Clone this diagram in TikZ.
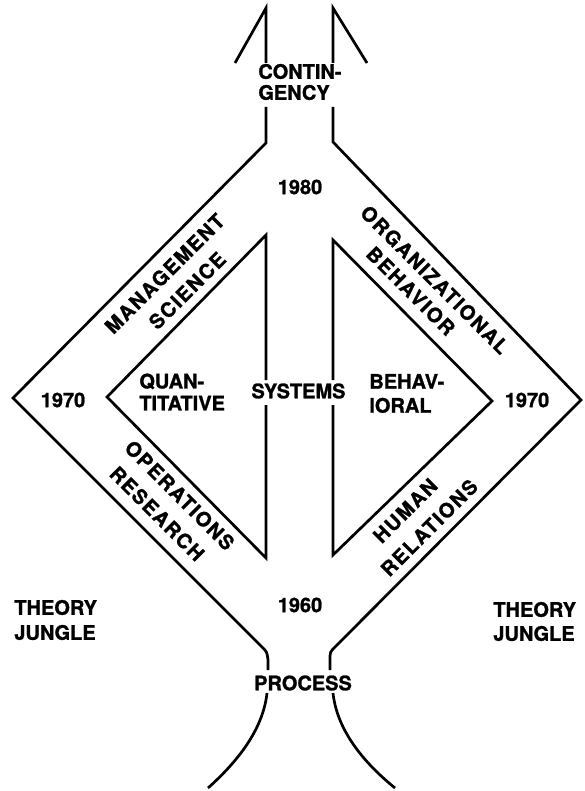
\documentclass[tikz,border=0pt]{standalone}
\usepackage{fontspec}
\setmainfont{TeX Gyre Heros}[BoldFeatures={FakeBold=1.2}]
\newfontfamily\spacedfont{TeX Gyre Heros}[LetterSpace=8,BoldFeatures={FakeBold=1.2}]
\begin{document}
\begin{tikzpicture}[x=1pt,y=-1pt,
  line width=2.7pt,
  lbl/.style={font=\fontsize{20}{22}\selectfont\bfseries, inner sep=0pt},
  slbl/.style={inner sep=0pt, align=center}]
\useasboundingbox (0,0) rectangle (584,791);
% top arrow heads
\draw (235,63) -- (266,8) -- (266,63);
\draw (367,63) -- (333,8) -- (333,63);
% outer diamond
\draw (266,107) -- (266,143) -- (13,398) -- (262,647) .. controls (267,652) .. (268,660) -- (268,670);
\draw (333,107) -- (333,142) -- (581,400) -- (335,647) .. controls (330,652) .. (330,660) -- (330,670);
% inner triangles
\draw (266,380) -- (266,235) -- (107,397) -- (266,558) -- (266,405);
\draw (333,380) -- (333,240) -- (492,401) -- (333,555) -- (333,405);
% bottom flares
\draw (267,693) .. controls (263,730) and (237,762) .. (208,788);
\draw (333,693) .. controls (337,730) and (363,762) .. (395,788);
% labels
\node[lbl,anchor=west,align=left,font=\fontsize{20}{21}\selectfont\bfseries] (contingency) at (257,82) {CONTIN-\\GENCY};
\node[lbl] (y1980) at (300,187) {1980};
\node[lbl] (y1960) at (300,605) {1960};
\node[lbl] (y1970l) at (63,400) {1970};
\node[lbl] (y1970r) at (527,400) {1970};
\node[lbl] (systems) at (298.5,391) {SYSTEMS};
\node[lbl] (process) at (303,683) {PROCESS};
\node[lbl,anchor=west,align=left] (quan) at (138,392) {QUAN-\\TITATIVE};
\node[lbl,anchor=west,align=left,font=\fontsize{20}{24}\selectfont\bfseries] (behav) at (368,393.5) {BEHAV-\\IORAL};
\node[lbl,anchor=west,align=left,font=\fontsize{20}{25}\selectfont\bfseries] (jungleL) at (13,620) {THEORY\\JUNGLE};
\node[lbl,anchor=west,align=left,font=\fontsize{20}{24}\selectfont\bfseries] (jungleR) at (492,621.5) {THEORY\\JUNGLE};
\node[slbl,rotate=45,font=\fontsize{20}{28}\spacedfont\bfseries] (mgmt) at (174.5,283.5) {MANAGEMENT\\SCIENCE\hspace*{-8pt}};
\node[slbl,rotate=-45,font=\fontsize{20}{25}\spacedfont\bfseries] (org) at (426,288.5) {ORGANIZATIONAL\\BEHAVIOR\hspace*{18pt}};
\node[slbl,rotate=-45,font=\fontsize{20}{29}\spacedfont\bfseries] (ops) at (169.5,505.5) {OPERATIONS\\RESEARCH\hspace*{6pt}};
\node[slbl,rotate=45,font=\fontsize{20}{29}\spacedfont\bfseries] (hum) at (415.5,521) {HUMAN\\\hspace*{10pt}RELATIONS};
\end{tikzpicture}
\end{document}
